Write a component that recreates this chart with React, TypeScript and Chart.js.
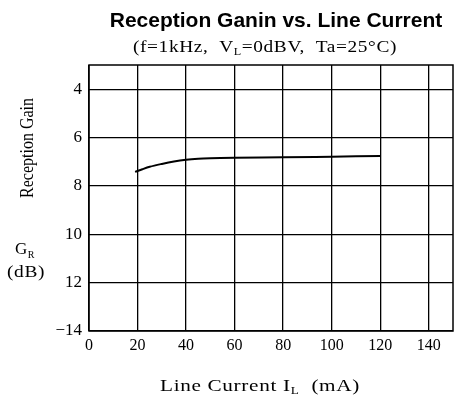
import React, { useEffect, useRef } from "react";
import { Chart, registerables } from "chart.js";

Chart.register(...registerables);

const currents = [19, 22, 25, 30, 35, 40, 45, 50, 60, 80, 100, 120];
const gains = [7.42, 7.31, 7.21, 7.09, 6.99, 6.92, 6.88, 6.86, 6.84, 6.82, 6.79, 6.76];
const xTicks = [0, 20, 40, 60, 80, 100, 120, 140];
const yTicks = [4, 6, 8, 10, 12, 14];
const yTickLabels = ["4", "6", "8", "10", "12", "\u221214"];

const SERIF = '"Liberation Serif", "DejaVu Serif", serif';
const SANS = '"Liberation Sans", Arial, sans-serif';

type Part = { t: string; sub?: boolean };

function drawRich(ctx: CanvasRenderingContext2D, parts: Part[], cx: number, cy: number, size: number, target = 0, ls = 0.5) {
  ctx.save();
  ctx.textBaseline = "middle";
  ctx.textAlign = "left";
  ctx.fillStyle = "#000";
  (ctx as any).letterSpacing = `${ls}px`;
  let total = 0;
  const widths = parts.map((p) => {
    ctx.font = `${p.sub ? Math.round(size * 0.6) : size}px ${SERIF}`;
    const w = ctx.measureText(p.t).width;
    total += w;
    return w;
  });
  const k = target > 0 ? target / total : 1;
  ctx.translate(cx, cy);
  ctx.scale(k, 1);
  let x = -total / 2;
  parts.forEach((p, i) => {
    ctx.font = `${p.sub ? Math.round(size * 0.6) : size}px ${SERIF}`;
    ctx.fillText(p.t, x, p.sub ? size * 0.3 : 0);
    x += widths[i];
  });
  ctx.restore();
}

const decorPlugin = {
  id: "decor",
  afterDraw(chart: any) {
    const ctx: CanvasRenderingContext2D = chart.ctx;
    const a = chart.chartArea;
    ctx.save();
    ctx.strokeStyle = "#000";
    ctx.lineWidth = 1.5;
    ctx.strokeRect(a.left, a.top, a.right - a.left, a.bottom - a.top);
    ctx.fillStyle = "#000";
    ctx.textAlign = "center";
    ctx.textBaseline = "middle";
    ctx.font = `bold 21px ${SANS}`;
    ctx.fillText("Reception Ganin vs. Line Current", 276, 21);
    ctx.restore();

    drawRich(ctx, [
      { t: "(f=1kHz,  V" }, { t: "L", sub: true }, { t: "=0dBV,  Ta=25°C)" },
    ], 265, 48, 16, 264);

    ctx.save();
    ctx.translate(28, 148);
    ctx.rotate(-Math.PI / 2);
    drawRich(ctx, [{ t: "Reception Gain" }], 0, 0, 18, 100, 0);
    ctx.restore();

    drawRich(ctx, [{ t: "G" }, { t: "R", sub: true }], 25, 250, 17);
    drawRich(ctx, [{ t: "(dB)" }], 26, 273, 16, 38);
    drawRich(ctx, [{ t: "Line Current I" }, { t: "L", sub: true }, { t: "  (mA)" }], 260, 387, 16, 200);
  },
};

export default function App() {
  const ref = useRef<HTMLCanvasElement>(null);
  useEffect(() => {
    if (!ref.current) return;
    const chart = new Chart(ref.current, {
      type: "line",
      data: {
        datasets: [
          {
            data: currents.map((x, i) => ({ x, y: gains[i] })),
            borderColor: "#000",
            borderWidth: 2,
            pointRadius: 0,
            cubicInterpolationMode: "monotone",
            fill: false,
          },
        ],
      },
      options: {
        responsive: false,
        animation: false,
        layout: { padding: { top: 65, right: 2, left: 0, bottom: 0 } },
        plugins: { legend: { display: false }, tooltip: { enabled: false }, title: { display: false } },
        scales: {
          x: {
            type: "linear",
            min: 0,
            max: 150,
            afterFit: (s: any) => { s.height = 77; },
            afterBuildTicks: (s: any) => { s.ticks = xTicks.map((v) => ({ value: v })); },
            grid: { color: "#000", lineWidth: 1.3, drawTicks: false },
            border: { display: false },
            ticks: { color: "#000", padding: 5, font: { family: SERIF, size: 16 }, maxRotation: 0, autoSkip: false },
          },
          y: {
            type: "linear",
            reverse: true,
            min: 3,
            max: 14,
            afterFit: (s: any) => { s.width = 89; },
            afterBuildTicks: (s: any) => { s.ticks = yTicks.map((v) => ({ value: v })); },
            grid: { color: "#000", lineWidth: 1.3, drawTicks: false },
            border: { display: false },
            ticks: {
              color: "#000",
              padding: 7,
              font: { family: SERIF, size: 17 },
              autoSkip: false,
              callback: (v: any) => {
                const i = yTicks.indexOf(Number(v));
                return i >= 0 ? yTickLabels[i] : "";
              },
            },
          },
        },
      },
      plugins: [decorPlugin],
    } as any);
    return () => chart.destroy();
  }, []);
  return (
    <div style={{ position: "fixed", left: 0, top: 0, width: 455, height: 408, background: "#fff" }}>
      <canvas ref={ref} width={455} height={408} style={{ width: 455, height: 408 }} />
    </div>
  );
}
